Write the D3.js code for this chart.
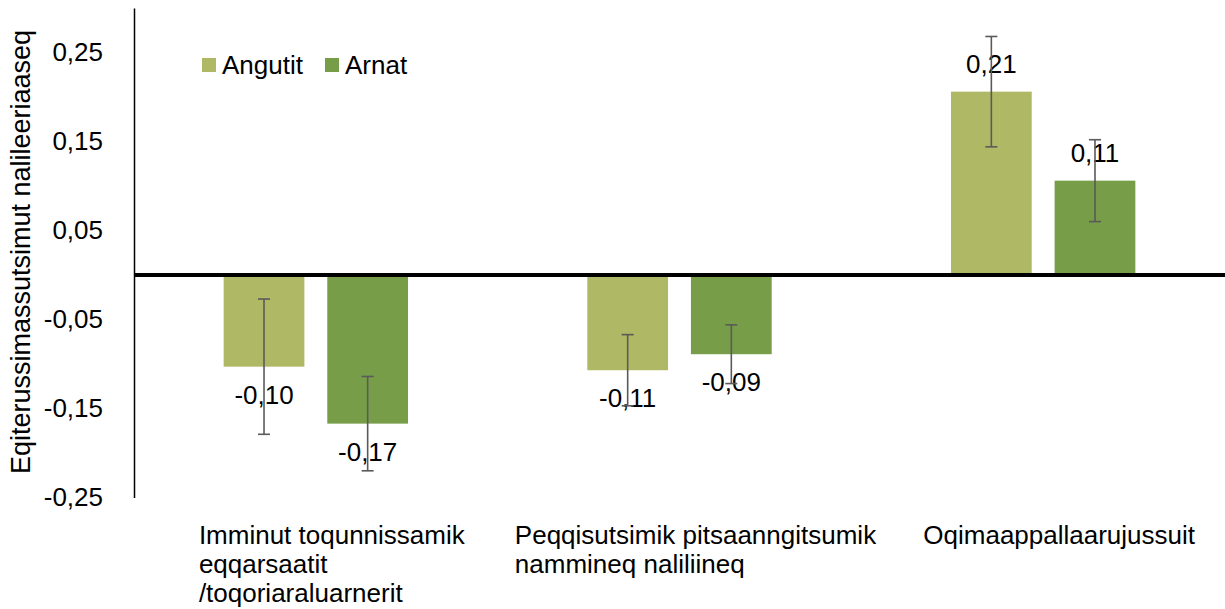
<!DOCTYPE html>
<html>
<head>
<meta charset="utf-8">
<script src="https://cdn.jsdelivr.net/npm/d3@7"></script>
<style>
  body { margin: 0; background: #fff; }
  svg { display: block; font-family: "Liberation Sans", Arial, sans-serif; }
</style>
</head>
<body>
<div class="plot"></div>
<script>
// values
let categories = [
    ["Imminut toqunnissamik", "eqqarsaatit", "/toqoriaraluarnerit"],
    ["Peqqisutsimik pitsaanngitsumik", "nammineq naliliineq"],
    ["Oqimaappallaarujussuit"]
];
let seriesNames = ["Angutit", "Arnat"];
let angutit = [-0.103, -0.107, 0.206];
let arnat = [-0.167, -0.089, 0.106];
let angutitErr = [0.076, 0.040, 0.062];
let arnatErr = [0.053, 0.033, 0.046];
let yTicks = [-0.25, -0.15, -0.05, 0.05, 0.15, 0.25];
let yTitle = "Eqiterussimassutsimut nalileeriaaseq";

let colors = ["#afb864", "#789d49"];
let width = 1225, height = 609;
let plotLeft = 134, plotRight = 1225, plotTop = 8, plotBottom = 497.5;
let fontSize = 26;

let comma = v => v.toFixed(2).replace(".", ",");

let svg = d3.select(".plot")
    .append("svg")
    .attr("width", width)
    .attr("height", height);

let xScale = d3.scaleBand()
    .domain(d3.range(categories.length))
    .range([plotLeft, plotRight]);

let xSub = d3.scaleBand()
    .domain(seriesNames)
    .range([0, xScale.bandwidth()])
    .paddingInner(0.221)
    .paddingOuter(0.865);

let yScale = d3.scaleLinear()
    .domain([-0.25, 0.3])
    .range([plotBottom, plotTop]);

// y axis
let yAxis = d3.axisLeft(yScale)
    .tickValues(yTicks)
    .tickFormat(comma)
    .tickSize(0)
    .tickSizeOuter(0)
    .tickPadding(31);

let gy = svg.append("g")
    .attr("transform", "translate(" + plotLeft + ",0)")
    .call(yAxis);
gy.select(".domain").attr("stroke", "#000").attr("stroke-width", 1.5);
gy.selectAll("text")
    .attr("font-size", fontSize)
    .attr("font-family", "Liberation Sans, Arial, sans-serif")
    .attr("fill", "#000");

svg.append("text")
    .attr("transform", "translate(30,252) rotate(-90)")
    .attr("text-anchor", "middle")
    .attr("font-size", 27)
    .text(yTitle);

// bars
let series = [
    {name: seriesNames[0], values: angutit, err: angutitErr, color: colors[0]},
    {name: seriesNames[1], values: arnat, err: arnatErr, color: colors[1]}
];

series.forEach(s => {
    let g = svg.append("g").attr("class", "series");
    let rows = s.values.map((v, i) => ({i: i, v: v, e: s.err[i]}));
    let bx = d => xScale(d.i) + xSub(s.name);
    let cx = d => bx(d) + xSub.bandwidth() / 2;

    g.selectAll("rect")
        .data(rows)
        .enter().append("rect")
        .attr("x", bx)
        .attr("width", xSub.bandwidth())
        .attr("y", d => yScale(Math.max(0, d.v)))
        .attr("height", d => Math.abs(yScale(d.v) - yScale(0)))
        .attr("fill", s.color);

    // data labels
    g.selectAll("text.val")
        .data(rows)
        .enter().append("text")
        .attr("class", "val")
        .attr("x", cx)
        .attr("y", d => yScale(d.v) + (d.v < 0 ? 28 : -28))
        .attr("dy", "0.35em")
        .attr("text-anchor", "middle")
        .attr("font-size", fontSize)
        .text(d => comma(d.v));

    // error bars
    let eb = g.selectAll("g.err")
        .data(rows)
        .enter().append("g")
        .attr("class", "err")
        .attr("stroke", "#5a5a5a")
        .attr("stroke-width", 1.6);
    eb.append("line")
        .attr("x1", cx).attr("x2", cx)
        .attr("y1", d => yScale(d.v + d.e))
        .attr("y2", d => yScale(d.v - d.e));
    [1, -1].forEach(sign => {
        eb.append("line")
            .attr("x1", d => cx(d) - 6).attr("x2", d => cx(d) + 6)
            .attr("y1", d => yScale(d.v + sign * d.e))
            .attr("y2", d => yScale(d.v + sign * d.e));
    });
});

// zero line
svg.append("line")
    .attr("x1", plotLeft).attr("x2", plotRight)
    .attr("y1", yScale(0)).attr("y2", yScale(0))
    .attr("stroke", "#000")
    .attr("stroke-width", 4);

// category labels
categories.forEach((lines, i) => {
    let t = svg.append("text")
        .attr("font-size", fontSize)
        .attr("y", 544);
    lines.forEach((line, j) => {
        t.append("tspan")
            .attr("y", 544 + j * 29)
            .text(line);
    });
    let w = d3.max(t.selectAll("tspan").nodes(), n => n.getComputedTextLength());
    let x0 = xScale(i) + xScale.bandwidth() / 2 - w / 2 + 16;
    t.selectAll("tspan").attr("x", x0);
});

// legend
let legend = svg.append("g").attr("class", "legend");
let legendX = [202, 325];
seriesNames.forEach((name, i) => {
    legend.append("rect")
        .attr("x", legendX[i]).attr("y", 58)
        .attr("width", 14).attr("height", 14)
        .attr("fill", colors[i]);
    legend.append("text")
        .attr("x", legendX[i] + 20).attr("y", 65)
        .attr("dy", "0.35em")
        .attr("font-size", fontSize)
        .text(name);
});
</script>
</body>
</html>
